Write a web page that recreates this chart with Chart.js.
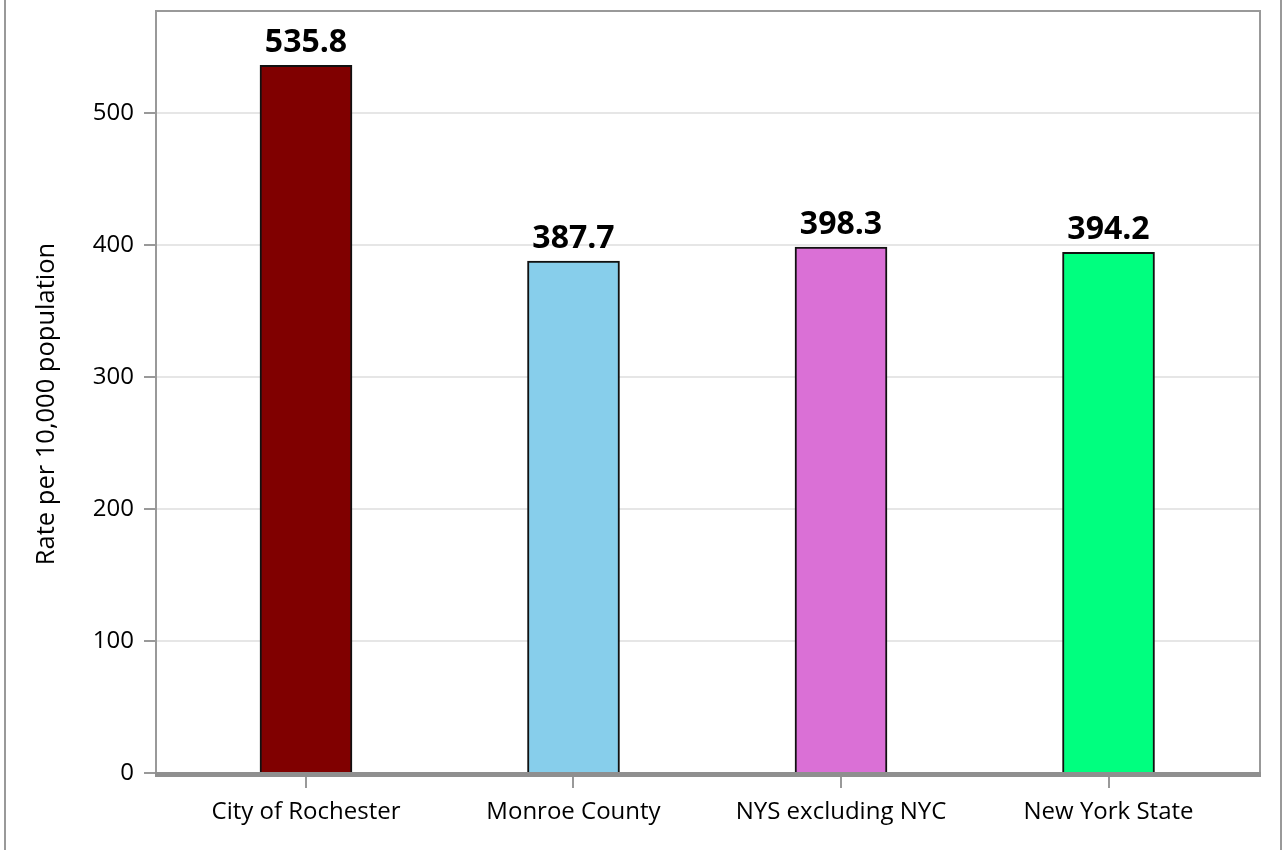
<!DOCTYPE html>
<html><head><meta charset="utf-8">
<script src="https://cdn.jsdelivr.net/npm/chart.js@4.4.0/dist/chart.umd.min.js"></script>
<style>
html,body{margin:0;padding:0;background:#fff;overflow:hidden;}
#wrap{position:relative;width:1283px;height:850px;}
#frame{position:absolute;left:4px;top:-5px;width:1274px;height:860px;border-left:2px solid #999;border-right:2px solid #999;pointer-events:none;}
canvas{position:absolute;left:0;top:0;}
</style></head><body>
<div id="wrap"><canvas id="c" width="1283" height="850"></canvas><div id="frame"></div></div>
<script>
// ---- data ----
const categories = ["City of Rochester", "Monroe County", "NYS excluding NYC", "New York State"];
const rates = [535.8, 387.7, 398.3, 394.2];
const barColors = ["#800000", "#87CEEB", "#DA70D6", "#00FF7F"];
const yTickValues = [0, 100, 200, 300, 400, 500];
const yAxisTitle = "Rate per 10,000 population";

const FONT = '"Open Sans", "Noto Sans", sans-serif';
const GRAY = '#999999';

const framePlugin = {
  id: 'frame',
  afterDatasetsDraw(chart) {
    const { ctx, chartArea: a } = chart;
    ctx.save();
    ctx.strokeStyle = GRAY;
    ctx.lineWidth = 2;
    ctx.beginPath();
    ctx.moveTo(a.left, a.bottom);
    ctx.lineTo(a.left, a.top);
    ctx.lineTo(a.right, a.top);
    ctx.lineTo(a.right, a.bottom);
    ctx.stroke();
    ctx.fillStyle = '#8f8f8f';
    ctx.fillRect(a.left - 1, a.bottom - 1, a.right - a.left + 2, 5);
    ctx.restore();
  }
};

const valueLabelPlugin = {
  id: 'valueLabels',
  afterDatasetsDraw(chart) {
    const { ctx } = chart;
    const meta = chart.getDatasetMeta(0);
    ctx.save();
    ctx.font = 'bold 32px ' + FONT;
    ctx.fillStyle = '#000';
    ctx.textAlign = 'center';
    ctx.textBaseline = 'alphabetic';
    meta.data.forEach((el, i) => {
      ctx.fillText(rates[i].toFixed(1), el.x, el.y - 13);
    });
    ctx.restore();
  }
};

const yTitlePlugin = {
  id: 'yTitle',
  afterDraw(chart) {
    const { ctx } = chart;
    ctx.save();
    ctx.translate(47, 404);
    ctx.rotate(-Math.PI / 2);
    ctx.font = '25.5px ' + FONT;
    ctx.fillStyle = '#000';
    ctx.textAlign = 'center';
    ctx.textBaseline = 'middle';
    ctx.fillText(yAxisTitle, 0, 0);
    ctx.restore();
  }
};

new Chart(document.getElementById('c'), {
  type: 'bar',
  data: {
    labels: categories,
    datasets: [{
      data: rates,
      backgroundColor: barColors,
      borderColor: '#111111',
      borderWidth: 2,
      barThickness: 92
    }]
  },
  options: {
    responsive: false,
    animation: false,
    devicePixelRatio: 1,
    layout: { padding: { top: 11, right: 23, left: 0, bottom: 0 } },
    plugins: { legend: { display: false }, tooltip: { enabled: false } },
    scales: {
      x: {
        offset: true,
        afterBuildTicks(scale) {
          scale._startValue = -0.5607;
          scale._valueRange = 4.127;
        },
        afterFit(scale) {
          scale.height = 77;
          scale.paddingLeft = 0; scale.paddingRight = 0;
          scale.paddingTop = 0; scale.paddingBottom = 0;
        },
        border: { display: false },
        grid: { offset: false, drawOnChartArea: false, drawTicks: true, tickLength: 15, tickColor: GRAY, lineWidth: 2 },
        ticks: { color: '#000', font: { family: FONT, size: 24 }, padding: 10, maxRotation: 0, autoSkip: false }
      },
      y: {
        min: 0,
        max: 577,
        afterBuildTicks(scale) { scale.ticks = yTickValues.map(v => ({ value: v })); },
        afterFit(scale) {
          scale.width = 156;
          scale.paddingTop = 0; scale.paddingBottom = 0;
          scale.paddingLeft = 0; scale.paddingRight = 0;
        },
        border: { display: false },
        grid: { color: '#e6e6e6', lineWidth: 2, tickColor: GRAY, tickLength: 12, drawTicks: true },
        ticks: { color: '#000', font: { family: FONT, size: 24 }, padding: 10 }
      }
    }
  },
  plugins: [framePlugin, valueLabelPlugin, yTitlePlugin]
});
</script>
</body></html>
